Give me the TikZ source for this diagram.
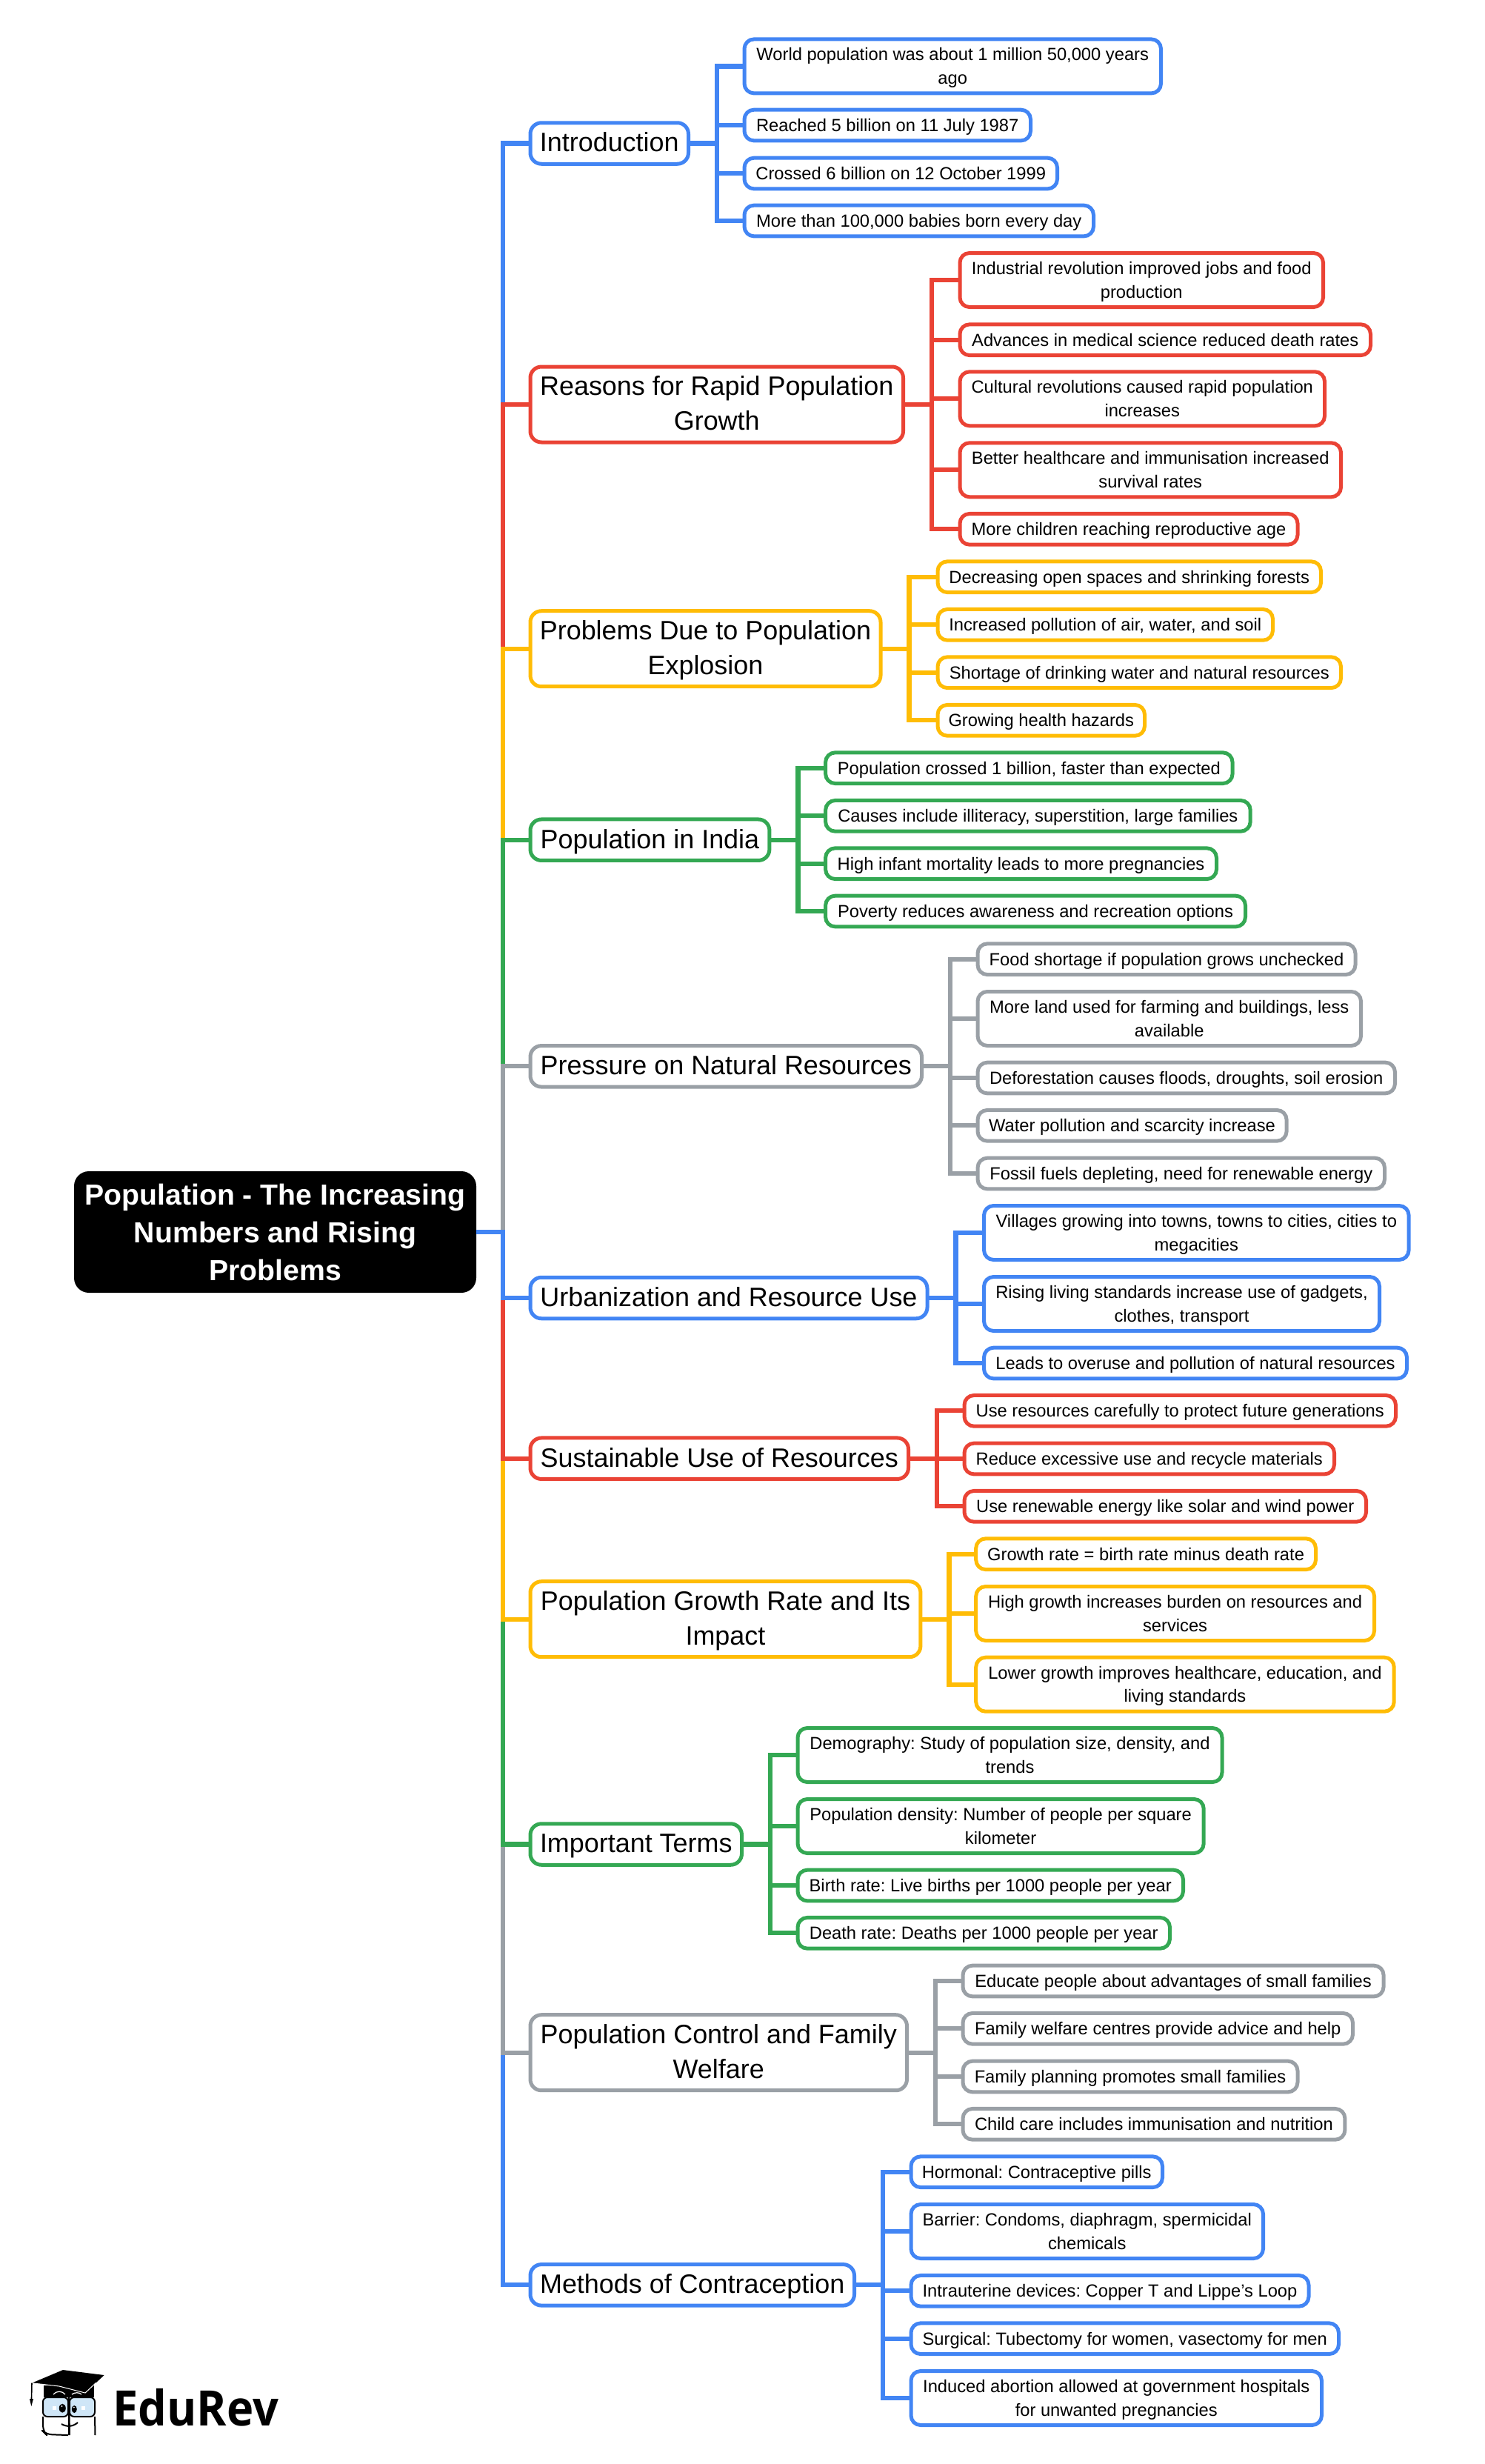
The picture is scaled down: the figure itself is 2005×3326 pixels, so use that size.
\documentclass[tikz,border=0pt]{standalone}
\usepackage{fontspec}
\setmainfont{Liberation Sans}
\newfontfamily\logofont{Open Sans}
\definecolor{cBlue}{HTML}{4285F4}
\definecolor{cRed}{HTML}{EA4335}
\definecolor{cYel}{HTML}{FFBC05}
\definecolor{cGrn}{HTML}{34A853}
\definecolor{cGry}{HTML}{9AA0A6}
\definecolor{cLens}{HTML}{CFE6F7}
\tikzset{
  leafbox/.style={draw,fill=white,line width=2.5pt,rounded corners=6.5pt,inner sep=0pt,outer sep=0pt,align=center,text=black,font=\frenchspacing\fontsize{11.86pt}{15.9pt}\selectfont},
  midbox/.style={draw,fill=white,line width=2.5pt,rounded corners=7.5pt,inner sep=0pt,outer sep=0pt,align=center,text=black,font=\frenchspacing\fontsize{17.96pt}{23.4pt}\selectfont},
  rootbox/.style={fill=black,rounded corners=10pt,inner sep=0pt,outer sep=0pt,align=center,text=white,font=\frenchspacing\fontsize{19.6pt}{25.5pt}\selectfont\bfseries},
  conn/.style={line width=3.1pt,draw=#1}
}
\newcommand\TS{\rule{0pt}{\dimexpr\ht\strutbox+2pt\relax}}
\newcommand\TR{\rule{0pt}{\dimexpr\ht\strutbox+4pt\relax}}
% name, colour, x0, x1, centre y, height, text
\newcommand\LF[7]{\node[leafbox,draw=#2,minimum width={(#4-#3+1.5-5)*0.5pt},minimum height={(#6-5)*0.5pt}] (#1) at ({(#3+#4)/2-0.75},#5) {\TS\strut #7\strut};}
\newcommand\MD[7]{\node[midbox,draw=#2,minimum width={(#4-#3+1.5-5)*0.5pt},minimum height={(#6-5)*0.5pt}] (#1) at ({(#3+#4)/2-0.75},#5) {\TS\strut #7\strut};}
\newcommand\BR[2]{\draw[conn=#2] (root.east) -- ++(35.6,0) |- (#1.west);}
\newcommand\CN[3]{\draw[conn=#3] (#1.east) -- ++(38.5,0) |- (#2.west);}
\begin{document}
\begin{tikzpicture}[x=0.5pt,y=-0.5pt]
\useasboundingbox (0,0) rectangle (2005,3326);
\node[rootbox,minimum width={543*0.5pt},minimum height={164*0.5pt}] (root) at (371.5,1663) {\TR\strut Population - The Increasing\\Numbers and Rising\\Problems\strut};
% level 1
\MD{m1}{cBlue}{715}{932}{193.5}{60.5}{Introduction}
\MD{m2}{cRed}{715}{1222}{546}{107}{Reasons for Rapid Population\\Growth}
\MD{m3}{cYel}{715}{1191.5}{875.7}{107}{Problems Due to Population\\Explosion}
\MD{m4}{cGrn}{715}{1041.4}{1133.7}{60.5}{Population in India}
\MD{m5}{cGry}{715}{1247}{1439.3}{60.5}{Pressure on Natural Resources}
\MD{m6}{cBlue}{715}{1254.5}{1752}{60.5}{Urbanization and Resource Use}
\MD{m7}{cRed}{715}{1229}{1968.7}{60.5}{Sustainable Use of Resources}
\MD{m8}{cYel}{715}{1245.4}{2185.7}{107}{Population Growth Rate and Its\\Impact}
\MD{m9}{cGrn}{715}{1004}{2489.5}{60.5}{Important Terms}
\MD{m10}{cGry}{715}{1227}{2770.7}{107}{Population Control and Family\\Welfare}
\MD{m11}{cBlue}{715}{1156}{3084.3}{60.5}{Methods of Contraception}
% Introduction
\LF{a1}{cBlue}{1004}{1570}{89.4}{78}{World population was about 1 million 50,000 years\\ago}
\LF{a2}{cBlue}{1004}{1394}{169}{46.7}{Reached 5 billion on 11 July 1987}
\LF{a3}{cBlue}{1004}{1430}{234}{46.7}{Crossed 6 billion on 12 October 1999}
\LF{a4}{cBlue}{1004}{1479}{298}{46.7}{More than 100,000 babies born every day}
% Reasons
\LF{b1}{cRed}{1295}{1789}{378}{78}{Industrial revolution improved jobs and food\\production}
\LF{b2}{cRed}{1295}{1853}{458.7}{46.7}{Advances in medical science reduced death rates}
\LF{b3}{cRed}{1295}{1791}{538.3}{78}{Cultural revolutions caused rapid population\\increases}
\LF{b4}{cRed}{1295}{1813}{634.3}{78}{Better healthcare and immunisation increased\\survival rates}
\LF{b5}{cRed}{1295}{1754.5}{714.3}{46.7}{More children reaching reproductive age}
% Problems
\LF{c1}{cYel}{1265}{1786}{778.7}{46.7}{Decreasing open spaces and shrinking forests}
\LF{c2}{cYel}{1265}{1721}{843.3}{46.7}{Increased pollution of air, water, and soil}
\LF{c3}{cYel}{1265}{1813}{907.7}{46.7}{Shortage of drinking water and natural resources}
\LF{c4}{cYel}{1265}{1548}{972.3}{46.7}{Growing health hazards}
% India
\LF{d1}{cGrn}{1113.6}{1666.6}{1036.7}{46.7}{Population crossed 1 billion, faster than expected}
\LF{d2}{cGrn}{1113.6}{1690.7}{1101.3}{46.7}{Causes include illiteracy, superstition, large families}
\LF{d3}{cGrn}{1113.6}{1645}{1165.7}{46.7}{High infant mortality leads to more pregnancies}
\LF{d4}{cGrn}{1113.6}{1684}{1230}{46.7}{Poverty reduces awareness and recreation options}
% Pressure
\LF{e1}{cGry}{1319}{1832.5}{1294.7}{46.7}{Food shortage if population grows unchecked}
\LF{e2}{cGry}{1319}{1840}{1375}{78}{More land used for farming and buildings, less\\available}
\LF{e3}{cGry}{1319}{1886}{1455}{46.7}{Deforestation causes floods, droughts, soil erosion}
\LF{e4}{cGry}{1319}{1739.6}{1519.3}{46.7}{Water pollution and scarcity increase}
\LF{e5}{cGry}{1319}{1872}{1584}{46.7}{Fossil fuels depleting, need for renewable energy}
% Urbanization
\LF{f1}{cBlue}{1327.5}{1904.6}{1664}{78}{Villages growing into towns, towns to cities, cities to\\megacities}
\LF{f2}{cBlue}{1327.5}{1865}{1760}{78}{Rising living standards increase use of gadgets,\\clothes, transport}
\LF{f3}{cBlue}{1327.5}{1902}{1840}{46.7}{Leads to overuse and pollution of natural resources}
% Sustainable
\LF{g1}{cRed}{1301}{1887}{1904.3}{46.7}{Use resources carefully to protect future generations}
\LF{g2}{cRed}{1301}{1804}{1969}{46.7}{Reduce excessive use and recycle materials}
\LF{g3}{cRed}{1301}{1847}{2033.3}{46.7}{Use renewable energy like solar and wind power}
% Rate
\LF{h1}{cYel}{1316.7}{1779}{2097.7}{46.7}{Growth rate = birth rate minus death rate}
\LF{h2}{cYel}{1316.7}{1858}{2178}{78}{High growth increases burden on resources and\\services}
\LF{h3}{cYel}{1316.7}{1884.7}{2273.7}{78}{Lower growth improves healthcare, education, and\\living standards}
% Terms
\LF{i1}{cGrn}{1076}{1652.5}{2369}{78}{Demography: Study of population size, density, and\\trends}
\LF{i2}{cGrn}{1076}{1627.7}{2465}{78}{Population density: Number of people per square\\kilometer}
\LF{i3}{cGrn}{1076}{1600}{2545}{46.7}{Birth rate: Live births per 1000 people per year}
\LF{i4}{cGrn}{1076}{1582}{2609.3}{46.7}{Death rate: Deaths per 1000 people per year}
% Control
\LF{j1}{cGry}{1299}{1870.6}{2674}{46.7}{Educate people about advantages of small families}
\LF{j2}{cGry}{1299}{1829}{2738.3}{46.7}{Family welfare centres provide advice and help}
\LF{j3}{cGry}{1299}{1754.5}{2803}{46.7}{Family planning promotes small families}
\LF{j4}{cGry}{1299}{1818.4}{2867.3}{46.7}{Child care includes immunisation and nutrition}
% Methods
\LF{k1}{cBlue}{1229}{1572}{2931.7}{46.7}{Hormonal: Contraceptive pills}
\LF{k2}{cBlue}{1229}{1708}{3012}{78}{Barrier: Condoms, diaphragm, spermicidal\\chemicals}
\LF{k3}{cBlue}{1229}{1769.5}{3092.3}{46.7}{Intrauterine devices: Copper T and Lippe’s Loop}
\LF{k4}{cBlue}{1229}{1810}{3156.7}{46.7}{Surgical: Tubectomy for women, vasectomy for men}
\LF{k5}{cBlue}{1229}{1787}{3237}{78}{Induced abortion allowed at government hospitals\\for unwanted pregnancies}
% trunk: order gives the visible colour sequence
\BR{m1}{cBlue}\BR{m2}{cRed}\BR{m3}{cYel}\BR{m4}{cGrn}\BR{m5}{cGry}
\BR{m11}{cBlue}\BR{m10}{cGry}\BR{m9}{cGrn}\BR{m8}{cYel}\BR{m7}{cRed}\BR{m6}{cBlue}
% branches
\CN{m1}{a1}{cBlue}\CN{m1}{a2}{cBlue}\CN{m1}{a3}{cBlue}\CN{m1}{a4}{cBlue}
\CN{m2}{b1}{cRed}\CN{m2}{b2}{cRed}\CN{m2}{b3}{cRed}\CN{m2}{b4}{cRed}\CN{m2}{b5}{cRed}
\CN{m3}{c1}{cYel}\CN{m3}{c2}{cYel}\CN{m3}{c3}{cYel}\CN{m3}{c4}{cYel}
\CN{m4}{d1}{cGrn}\CN{m4}{d2}{cGrn}\CN{m4}{d3}{cGrn}\CN{m4}{d4}{cGrn}
\CN{m5}{e1}{cGry}\CN{m5}{e2}{cGry}\CN{m5}{e3}{cGry}\CN{m5}{e4}{cGry}\CN{m5}{e5}{cGry}
\CN{m6}{f1}{cBlue}\CN{m6}{f2}{cBlue}\CN{m6}{f3}{cBlue}
\CN{m7}{g1}{cRed}\CN{m7}{g2}{cRed}\CN{m7}{g3}{cRed}
\CN{m8}{h1}{cYel}\CN{m8}{h2}{cYel}\CN{m8}{h3}{cYel}
\CN{m9}{i1}{cGrn}\CN{m9}{i2}{cGrn}\CN{m9}{i3}{cGrn}\CN{m9}{i4}{cGrn}
\CN{m10}{j1}{cGry}\CN{m10}{j2}{cGry}\CN{m10}{j3}{cGry}\CN{m10}{j4}{cGry}
\CN{m11}{k1}{cBlue}\CN{m11}{k2}{cBlue}\CN{m11}{k3}{cBlue}\CN{m11}{k4}{cBlue}\CN{m11}{k5}{cBlue}
% logo
\fill[black] (59,3220) -- (127,3220) -- (127,3236) -- (59,3236) -- cycle;
\fill[black] (85,3199) -- (140.7,3206) -- (115,3230) -- (80,3221) -- (43,3216.7) -- cycle;
\draw[white,line width=0.5pt] (43,3216.7) -- (80,3221) -- (115,3230) -- (130,3216);
\draw[black,line width=0.8pt] (43,3216.7) -- (42.5,3238);
\fill[black] (40,3238) -- (45,3238) -- (42.3,3248) -- cycle;
\draw[white,line width=0.6pt] (72,3232) .. controls (76,3227) and (84,3227) .. (88,3232);
\draw[white,line width=0.6pt] (97,3232) .. controls (101,3229) and (107,3229) .. (110,3232);
\draw[black,fill=cLens,line width=1pt,rounded corners=3pt] (58,3236) rectangle (92,3262);
\draw[black,fill=cLens,line width=1pt,rounded corners=3pt] (94,3236) rectangle (128,3262);
\draw[black,line width=1pt,rounded corners=4pt] (92,3287) -- (62,3286) -- (58,3282) -- (58,3262);
\draw[black,line width=1pt,rounded corners=3pt] (128,3262) -- (128.5,3287);
\draw[black,line width=1.4pt] (93,3236) -- (93.5,3287);
\fill[white] (71,3248) rectangle (76,3252.5);
\fill[white] (109.5,3248) rectangle (115,3252.5);
\fill[black] (84.3,3250.7) ellipse [x radius=4.5,y radius=6];
\fill[black] (100.3,3252) ellipse [x radius=3.5,y radius=5];
\fill[white] (83.5,3248) circle [radius=1.2];
\fill[white] (99.8,3249.5) circle [radius=1];
\draw[black,line width=1pt] (83,3272) .. controls (90,3276) and (98,3276) .. (105,3270);
\node[inner sep=0pt,outer sep=0pt,anchor=base west,text=black,xscale=0.93,font=\logofont\fontsize{33pt}{36pt}\selectfont\bfseries] (logo) at (152,3274) {EduRev};
\end{tikzpicture}
\end{document}
